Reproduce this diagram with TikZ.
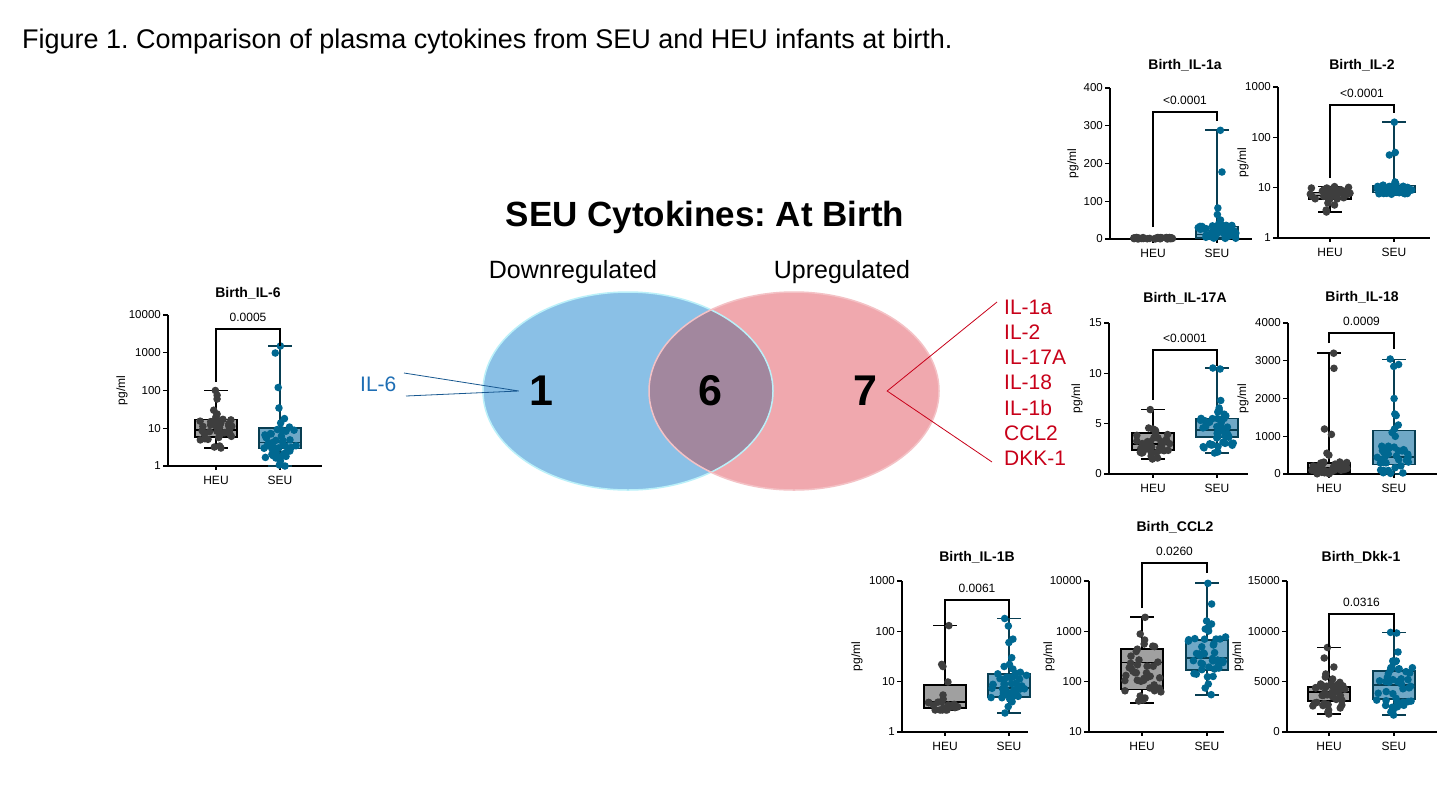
\documentclass[tikz,border=0pt]{standalone}
\usepackage{fontspec}
\setmainfont{Liberation Sans}
\usetikzlibrary{positioning}

\definecolor{heufill}{RGB}{160,160,160}
\definecolor{heuink}{RGB}{62,62,62}
\definecolor{seufill}{RGB}{112,168,198}
\definecolor{seuedge}{RGB}{8,62,82}
\definecolor{seuink}{RGB}{0,104,145}
\definecolor{vennblue}{RGB}{138,192,230}
\definecolor{vennpink}{RGB}{240,168,174}
\definecolor{vennmix}{RGB}{162,135,158}
\definecolor{il6blue}{RGB}{30,110,180}
\definecolor{upred}{RGB}{200,0,25}

\tikzset{
  axisline/.style={line width=1.4},
  ticklab/.style={font=\fontsize{11.5}{12}\selectfont, anchor=east, inner sep=0},
  grplab/.style={font=\fontsize{12}{13}\selectfont, inner sep=0},
  paneltitle/.style={font=\bfseries\fontsize{14}{15}\selectfont, inner sep=0},
  pval/.style={font=\fontsize{12}{13}\selectfont, inner sep=0, anchor=base},
  heuline/.style={draw=black, line width=1.7},
  seuline/.style={draw=seuedge, line width=1.7},
  heupt/.style={fill=heuink},
  seupt/.style={fill=seuink},
  bracket/.style={line width=1.3},
  vennnum/.style={font=\bfseries\fontsize{43}{48}\selectfont, inner sep=10},
  venntext/.style={font=\fontsize{25}{28}\selectfont, anchor=base, inner sep=0},
  uplab/.style={font=\fontsize{21}{24}\selectfont, text=upred, anchor=base west, inner sep=0}
}

\newcommand{\cytoaxes}[4]{%
  \draw [axisline] (0,151) -- (0,0) -- (#2,0);
  \foreach \tickv/\tickh [count=\tickn] in {#3} {
    \draw [axisline] (-5,\tickh) -- (0,\tickh);
    \node [ticklab] (#1-y\tickn) at (-7,\tickh) {\tickv};
  }
  \node [grplab, rotate=90] (#1-ylab) at (-#4,75.5) {pg/ml};
}

\newcommand{\cytobox}[8]{%
  \draw [#8line] (#2,#3) -- (#2,#7);
  \draw [#8line] (#2-12,#3) -- (#2+12,#3);
  \draw [#8line] (#2-12,#7) -- (#2+12,#7);
  \draw [#8line, fill=#8fill] (#2-21,#4) rectangle (#2+21,#6);
  \draw [#8line] (#2-21,#5) -- (#2+21,#5);
  \draw [axisline] (#2,0) -- (#2,-4);
  \node [grplab] (#1-#8) at (#2,-14) {\MakeUppercase{#8}};
}

\newcommand{\cytopts}[3]{%
  \foreach \hv in {#2} {
    \pgfmathsetmacro{\sx}{#1+5*rand}
    \fill [#3pt] (\sx,\hv) circle (3.8);
  }
}

\newcommand{\cytoswarm}[6]{%
  \foreach \dotn in {1,...,#2} {
    \pgfmathsetmacro{\sx}{#1+#6*rand}
    \pgfmathsetmacro{\sy}{#3+(#4-#3)*rnd}
    \fill [#5pt] (\sx,\sy) circle (3.8);
  }
}

\newcommand{\cytobracket}[7]{%
  \draw [bracket] (#2,#4) -- (#2,#6) -- (#3,#6) -- (#3,#5);
  \node [pval] (#1-p) at ({(#2+#3)/2},#6+8) {#7};
}

\begin{document}
\frenchspacing
\begin{tikzpicture}[x=1pt, y=-1pt]
\pgfmathsetseed{7}
\useasboundingbox (0,0) rectangle (1437,809);
\fill [white] (0,0) rectangle (1437,809);

\node [anchor=base west, inner sep=0, font=\fontsize{27}{30}\selectfont] (caption) at (22,48) {Figure 1. Comparison of plasma cytokines from SEU and HEU infants at birth.};

\fill [vennblue] (628,391) ellipse [x radius=145, y radius=99];
\fill [vennpink] (794,391) ellipse [x radius=145, y radius=99];
\begin{scope}
  \clip (628,391) ellipse [x radius=145, y radius=99];
  \fill [vennmix] (794,391) ellipse [x radius=145, y radius=99];
\end{scope}
\draw [line width=1.5, color=vennblue!60!cyan!40!white] (628,391) ellipse [x radius=145, y radius=99];
\draw [line width=1.5, color=vennpink!70!white] (794,391) ellipse [x radius=145, y radius=99];

\node [font=\bfseries\fontsize{35}{40}\selectfont, anchor=base, inner sep=0] (venntitle) at (705,226) {SEU Cytokines: At Birth};
\node [venntext] (downlabel) at (573,278) {Downregulated};
\node [venntext] (uplabel) at (842,278) {Upregulated};
\node [vennnum] (one) at (541,391) {1};
\node [vennnum] (six) at (710,391) {6};
\node [vennnum] (seven) at (865,391) {7};

\node [font=\fontsize{21}{24}\selectfont, text=il6blue, anchor=base west, inner sep=0] (il6) at (360,391) {IL-6};
\coordinate (il6top) at (404,373);
\coordinate (il6bot) at (406,396);
\draw [color=il6blue!80!black, line width=0.8] (il6top) -- (one.west) -- (il6bot);

\foreach \g [count=\i] in {IL-1a,IL-2,IL-17A,IL-18,IL-1b,CCL2,DKK-1}
  \node [uplab] (up\i) at (1004,{314+25.3*(\i-1)}) {\g};
\coordinate (uptop) at (997,302);
\coordinate (upbot) at (992,462);
\draw [color=upred, line width=0.8] (uptop) -- (seven.east) -- (upbot);

\begin{scope}[shift={(168,466)}, yscale=-1]
  \cytoaxes{il6p}{154}{1/0,10/37.75,100/75.5,1000/113.25,10000/151}{46}
  \node [paneltitle] (il6p-title) at (80,173) {Birth\_IL-6};
  \cytobox{il6p}{48}{18}{29}{36}{46.4}{75.5}{heu}
  \cytobox{il6p}{112}{0}{17.5}{23.5}{37.75}{120}{seu}
  \cytopts{48}{75.5,70.8,67,55.8,52,49,20,18,19}{heu}
  \cytoswarm{48}{34}{26}{47}{heu}{16}
  \cytopts{112}{120,113,78.5,58,47.4,43,0,1,2,5,8}{seu}
  \cytoswarm{112}{36}{8}{40}{seu}{17}
  \cytobracket{il6p}{48}{112}{84}{120}{137}{0.0005}
\end{scope}

\begin{scope}[shift={(1110,239)}, yscale=-1]
  \cytoaxes{il1a}{142}{0/0,100/37.75,200/75.5,300/113.25,400/151}{37}
  \node [paneltitle] (il1a-title) at (75,174) {Birth\_IL-1a};
  \cytobox{il1a}{43}{0}{0}{0.5}{1}{1.5}{heu}
  \cytobox{il1a}{107}{0}{1}{4.5}{12.5}{108.7}{seu}
  \cytoswarm{43}{36}{0}{1.5}{heu}{20}
  \cytopts{107}{108.7,67,31,24.5,19,15,14}{seu}
  \cytoswarm{107}{38}{0}{14}{seu}{19}
  \cytobracket{il1a}{43}{107}{12}{118}{127}{<0.0001}
\end{scope}

\begin{scope}[shift={(1278,238)}, yscale=-1]
  \cytoaxes{il2}{152}{1/0,10/50.33,100/100.67,1000/151}{35}
  \node [paneltitle] (il2-title) at (84,173) {Birth\_IL-2};
  \cytobox{il2}{52}{26}{39}{42.5}{45.5}{51.4}{heu}
  \cytobox{il2}{116}{43}{45.5}{48}{52.4}{115.8}{seu}
  \cytopts{52}{26,28,33,35,51.4,50}{heu}
  \cytoswarm{52}{38}{38}{51}{heu}{20}
  \cytopts{116}{115.8,85.5,83,56,54}{seu}
  \cytoswarm{116}{38}{43}{53}{seu}{20}
  \cytobracket{il2}{52}{116}{60}{125}{133}{<0.0001}
\end{scope}

\begin{scope}[shift={(1109,474)}, yscale=-1]
  \cytoaxes{il17}{139}{0/0,5/50.33,10/100.67,15/151}{32}
  \node [paneltitle] (il17-title) at (76,176) {Birth\_IL-17A};
  \cytobox{il17}{44}{15}{24}{30}{41}{64.4}{heu}
  \cytobox{il17}{108}{21}{37}{44}{55.5}{106}{seu}
  \cytopts{44}{64.4,46,45,44,36,15,16,18}{heu}
  \cytoswarm{44}{32}{20}{46}{heu}{17}
  \cytopts{108}{106,105,73.5,66,64,62,21,22}{seu}
  \cytoswarm{108}{38}{25}{60}{seu}{17}
  \cytobracket{il17}{44}{108}{74}{108}{124}{<0.0001}
\end{scope}

\begin{scope}[shift={(1288,474)}, yscale=-1]
  \cytoaxes{il18}{150}{0/0,1000/37.75,2000/75.5,3000/113.25,4000/151}{45}
  \node [paneltitle] (il18-title) at (74,177) {Birth\_IL-18};
  \cytobox{il18}{41}{0}{2}{5.7}{11.3}{120.8}{heu}
  \cytobox{il18}{106}{0}{9.4}{17}{43.4}{114.4}{seu}
  \cytopts{41}{120.8,105.7,45,39.6,20.8,18.9}{heu}
  \cytoswarm{41}{36}{0}{12}{heu}{19}
  \cytopts{106}{115,109.5,107.6,75.5,60,58.5,49,45,41.5,37.7}{seu}
  \cytoswarm{106}{34}{0}{28}{seu}{17}
  \cytobracket{il18}{41}{106}{131}{125}{141}{0.0009}
\end{scope}

\begin{scope}[shift={(902,732)}, yscale=-1]
  \cytoaxes{il1b}{126}{1/0,10/50.33,100/100.67,1000/151}{45}
  \node [paneltitle] (il1b-title) at (75,175) {Birth\_IL-1B};
  \cytobox{il1b}{43}{21.7}{24}{30.3}{46.8}{106.4}{heu}
  \cytobox{il1b}{107}{19}{35}{44}{57.7}{113.5}{seu}
  \cytopts{43}{106.4,67.6,65.5,50,37,33,30,27,22,22,22}{heu}
  \cytoswarm{43}{12}{22}{30}{heu}{17}
  \cytopts{107}{113.5,106,92.9,89.5,74.3,67.6,65.5,63,32.9,30.3,25.4,19}{seu}
  \cytoswarm{107}{32}{33}{60}{seu}{18}
  \cytobracket{il1b}{43}{107}{107}{114}{132}{0.0061}
\end{scope}

\begin{scope}[shift={(1089,732)}, yscale=-1]
  \cytoaxes{ccl2}{135}{10/0,100/50.33,1000/100.67,10000/151}{40}
  \node [paneltitle] (ccl2-title) at (86,205) {Birth\_CCL2};
  \cytobox{ccl2}{53}{29}{42.5}{69.5}{83.2}{114.7}{heu}
  \cytobox{ccl2}{118}{37.3}{61.9}{74.3}{92.3}{148.7}{seu}
  \cytopts{53}{114.7,98,92,88,31,32,34,36}{heu}
  \cytoswarm{53}{34}{34}{86}{heu}{19}
  \cytopts{118}{148.7,128,111,108,104,103,101,48,44,37.3}{seu}
  \cytoswarm{118}{36}{55}{98}{seu}{19}
  \cytobracket{ccl2}{53}{118}{124}{159}{169}{0.0260}
\end{scope}

\begin{scope}[shift={(1287,732)}, yscale=-1]
  \cytoaxes{dkk}{150}{0/0,5000/50.33,10000/100.67,15000/151}{49}
  \node [paneltitle] (dkk-title) at (74,175) {Birth\_Dkk-1};
  \cytobox{dkk}{42}{18}{31}{40}{45}{84.5}{heu}
  \cytobox{dkk}{107}{17}{33}{47}{61}{99.6}{seu}
  \cytopts{42}{84.5,74,65,58,55,53,20,18,22}{heu}
  \cytoswarm{42}{36}{24}{50}{heu}{17}
  \cytopts{107}{99.6,99,80,71,71,70,17,20,22}{seu}
  \cytoswarm{107}{36}{24}{68}{seu}{19}
  \cytobracket{dkk}{42}{107}{85}{100}{118}{0.0316}
\end{scope}
\end{tikzpicture}
\end{document}
